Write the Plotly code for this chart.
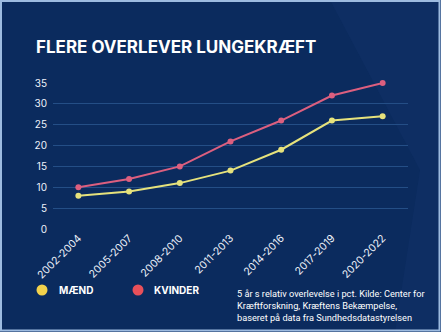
import plotly.graph_objects as go

categories = ["2002-2004", "2005-2007", "2008-2010", "2011-2013", "2014-2016", "2017-2019", "2020-2022"]
maend = [8, 9, 11, 14, 19, 26, 27]
kvinder = [10, 12, 15, 21, 26, 32, 35]
y_ticks = [0, 5, 10, 15, 20, 25, 30, 35]

W, H = 441, 332
L, R, T, B = 53, 408, 83, 229  # plot area pixel bounds

BG = "#0b2b5e"
FONT = "Inter"

def px(x):
    return (x - L) / (R - L)

def py(y):
    return (B - y) / (B - T)

def path(points):
    return "M " + " L ".join(f"{px(a):.4f},{py(b):.4f}" for a, b in points) + " Z"

fig = go.Figure()
fig.add_trace(go.Scatter(x=categories, y=maend, mode="lines+markers",
                         line=dict(color="#e6e27c", width=2),
                         marker=dict(color="#e6e27c", size=6),
                         cliponaxis=False, showlegend=False, name="MÆND"))
fig.add_trace(go.Scatter(x=categories, y=kvinder, mode="lines+markers",
                         line=dict(color="#dc5f7f", width=2),
                         marker=dict(color="#dc5f7f", size=6),
                         cliponaxis=False, showlegend=False, name="KVINDER"))

shapes = [
    # subtle lighter glow on the right
    dict(type="path", xref="paper", yref="paper", layer="below",
         path=path([(330, 0), (441, 0), (441, 332), (395, 332), (420, 170)]),
         fillcolor="rgba(60,110,180,0.06)", line=dict(width=0)),
    # outer frame
    dict(type="rect", xref="paper", yref="paper",
         x0=px(1), x1=px(W - 1.5), y0=py(H - 1.5), y1=py(1),
         line=dict(color="#9dbbe0", width=2), fillcolor="rgba(0,0,0,0)", layer="above"),
    # legend dots
    dict(type="circle", xref="paper", yref="paper", xsizemode="pixel", ysizemode="pixel",
         xanchor=px(42), yanchor=py(290), x0=-5.5, x1=5.5, y0=-5.5, y1=5.5,
         fillcolor="#f3d24c", line=dict(width=0)),
    dict(type="circle", xref="paper", yref="paper", xsizemode="pixel", ysizemode="pixel",
         xanchor=px(138), yanchor=py(290), x0=-5.5, x1=5.5, y0=-5.5, y1=5.5,
         fillcolor="#e8505a", line=dict(width=0)),
]

annotations = [
    dict(text="<b>FLERE OVERLEVER LUNGEKRÆFT</b>", xref="paper", yref="paper",
         x=px(34), y=py(47), xanchor="left", yanchor="middle", showarrow=False,
         font=dict(family=FONT, size=17, color="white")),
    dict(text="<b>MÆND</b>", xref="paper", yref="paper",
         x=px(57), y=py(290), xanchor="left", yanchor="middle", showarrow=False,
         font=dict(family=FONT, size=10, color="white")),
    dict(text="<b>KVINDER</b>", xref="paper", yref="paper",
         x=px(152), y=py(290), xanchor="left", yanchor="middle", showarrow=False,
         font=dict(family=FONT, size=10, color="white")),
    dict(text="5 år s relativ overlevelse i pct. Kilde: Center for<br>Kræftforskning, Kræftens Bekæmpelse,<br>baseret på data fra Sundhedsdatastyrelsen",
         xref="paper", yref="paper", x=px(235), y=py(305.5), xanchor="left", yanchor="middle",
         align="left", showarrow=False,
         font=dict(family="Roboto", size=9.2, color="white")),
]

fig.update_layout(
    width=W, height=H,
    margin=dict(l=L, r=W - R, t=T, b=H - B),
    paper_bgcolor=BG, plot_bgcolor="rgba(0,0,0,0)",
    font=dict(family=FONT, color="white"),
    shapes=shapes, annotations=annotations,
    showlegend=False,
    xaxis=dict(type="category", range=[-0.5, 6.5], showgrid=False, zeroline=False,
               showline=False, tickangle=-45, tickfont=dict(size=10.5, color="#eef2fa"),
               ticks="", fixedrange=True),
    yaxis=dict(range=[0, 35], tickvals=y_ticks, showgrid=True, gridcolor="#244e86",
               gridwidth=1, zeroline=False, showline=False, ticks="",
               tickfont=dict(size=10, color="#eef2fa"), ticklabelstandoff=5, fixedrange=True),
)

fig.write_html("out.html", config={"displayModeBar": False})
